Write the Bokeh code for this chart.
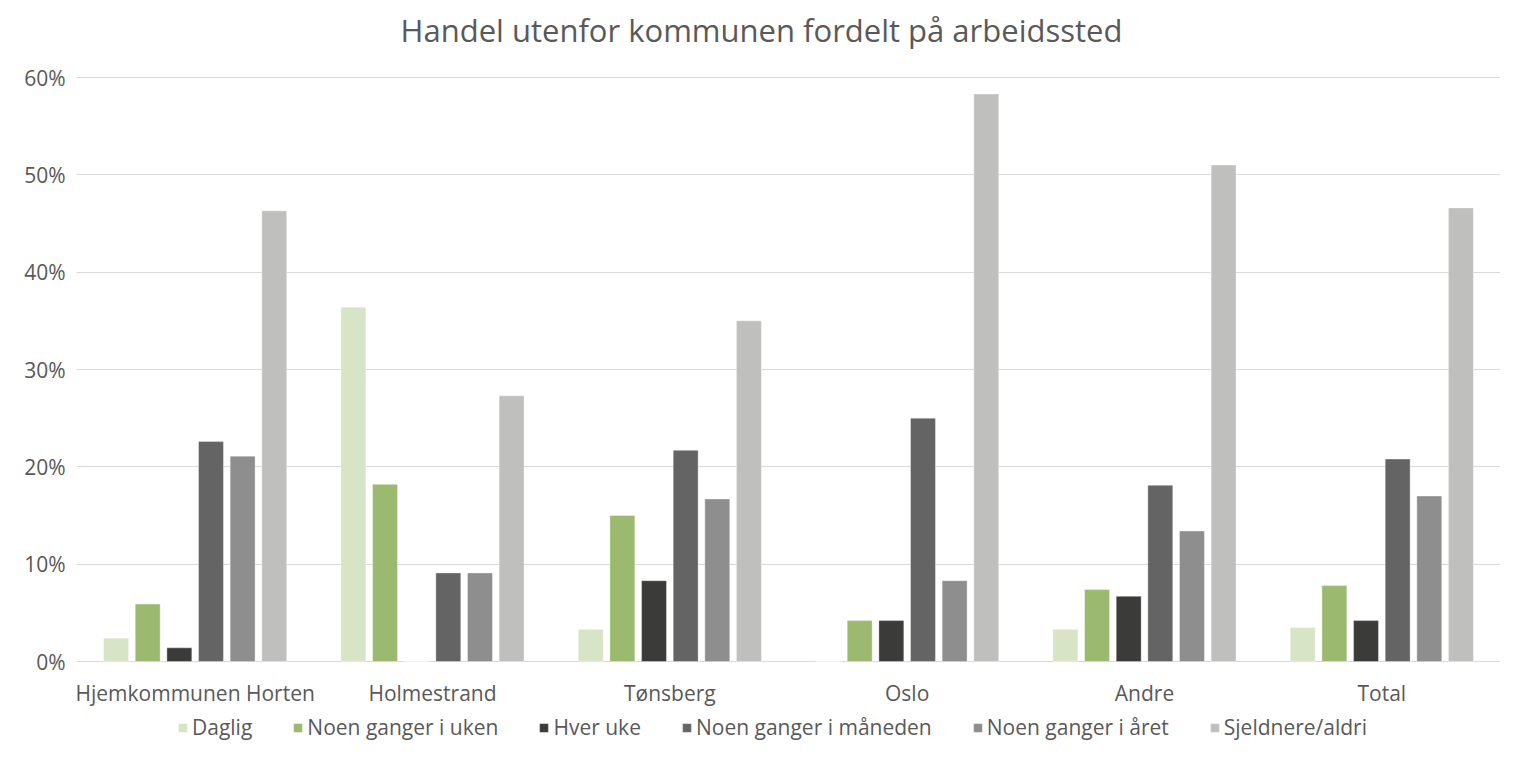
from bokeh.plotting import figure
from bokeh.models import ColumnDataSource, Legend, LegendItem, PrintfTickFormatter, FixedTicker, Label
from bokeh.transform import dodge
from bokeh.core.properties import value
from bokeh.embed import file_html
from bokeh.resources import INLINE

categories = ["Hjemkommunen Horten", "Holmestrand", "Tønsberg", "Oslo", "Andre", "Total"]
series_names = ["Daglig", "Noen ganger i uken", "Hver uke", "Noen ganger i måneden",
                "Noen ganger i året", "Sjeldnere/aldri"]
daglig = [2.4, 36.4, 3.3, 0.0, 3.3, 3.5]
noen_uke = [5.9, 18.2, 15.0, 4.2, 7.4, 7.8]
hver_uke = [1.4, 0.0, 8.3, 4.2, 6.7, 4.2]
noen_maaned = [22.6, 9.1, 21.7, 25.0, 18.1, 20.8]
noen_aaret = [21.1, 9.1, 16.7, 8.3, 13.4, 17.0]
sjeldnere = [46.3, 27.3, 35.0, 58.3, 51.0, 46.6]
y_ticks = [0, 10, 20, 30, 40, 50, 60]
title_text = "Handel utenfor kommunen fordelt på arbeidssted"

colors = ["#D7E4C5", "#9BBA70", "#3B3B39", "#646464", "#8E8E8E", "#BFBFBE"]
keys = ["daglig", "uke", "hver", "maaned", "aaret", "sjeldnere"]

source = ColumnDataSource(dict(cat=categories, daglig=daglig, uke=noen_uke, hver=hver_uke,
                               maaned=noen_maaned, aaret=noen_aaret, sjeldnere=sjeldnere))

FONT = "Open Sans"
TXT = "#595959"
FS = "21px"

W, H = 1502, 742
TOP_PX, ZERO_PX = 77, 661          # pixel rows of the 60 % line and the 0 % line
ppu = (ZERO_PX - TOP_PX) / 60.0     # pixels per percentage point
y_lo = -(H - ZERO_PX) / ppu
y_hi = 60 + TOP_PX / ppu

p = figure(x_range=categories, y_range=(y_lo, y_hi), width=W, height=H,
           output_backend="svg", toolbar_location=None, x_axis_location=None,
           min_border_left=76, min_border_right=2, min_border_top=0, min_border_bottom=0)

step = 0.1333
bw = 0.105
items = []
for i, (k, name, c) in enumerate(zip(keys, series_names, colors)):
    off = (i - 2.5) * step
    r = p.vbar(x=dodge("cat", off, range=p.x_range), top=k, width=bw, source=source,
               fill_color=c, line_color="white", line_alpha=0.35, line_width=1)
    items.append(LegendItem(label=name, renderers=[r]))

# category labels under the baseline
label_y = -(692 - ZERO_PX) / ppu
p.text(x=categories, y=[label_y] * len(categories), text=categories,
       text_align="center", text_baseline="middle", text_font=value(FONT),
       text_font_size=FS, text_color=TXT)

# title
title = Label(x=685, y=60 + (TOP_PX - 29) / ppu, x_units="screen", y_units="data",
              text=title_text, text_align="center", text_baseline="middle",
              text_font=FONT, text_font_size="31px", text_color=TXT)
p.add_layout(title)

p.outline_line_color = None
p.xgrid.grid_line_color = None
p.ygrid.grid_line_color = "#D9D9D9"
p.ygrid.grid_line_width = 1
p.ygrid.ticker = FixedTicker(ticks=y_ticks)

p.yaxis.ticker = FixedTicker(ticks=y_ticks)
p.yaxis.formatter = PrintfTickFormatter(format="%d%%")
p.yaxis.axis_line_color = None
p.yaxis.major_tick_line_color = None
p.yaxis.minor_tick_line_color = None
p.yaxis.major_label_text_font = FONT
p.yaxis.major_label_text_font_size = FS
p.yaxis.major_label_text_color = TXT
p.yaxis.major_label_standoff = 5

legend = Legend(items=items, orientation="horizontal", location=(101, 1),
                label_text_font=FONT, label_text_font_size=FS, label_text_color=TXT,
                glyph_width=11, glyph_height=11, label_standoff=4, spacing=40,
                border_line_color=None, background_fill_alpha=0, margin=0, padding=0)
p.add_layout(legend)

open("out.html", "w").write(file_html(p, INLINE))
